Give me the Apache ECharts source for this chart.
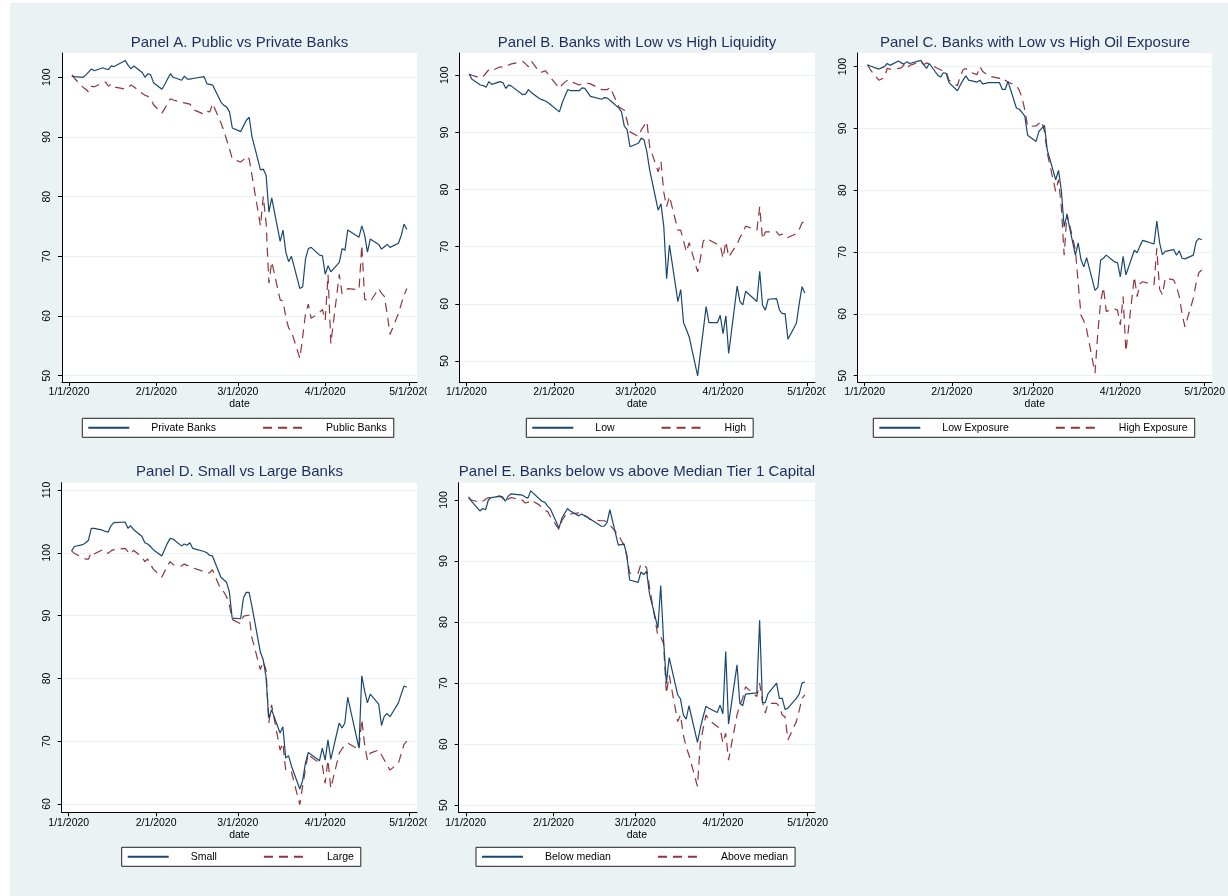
<!DOCTYPE html>
<html><head><meta charset="utf-8">
<script src="https://cdn.jsdelivr.net/npm/echarts@6/dist/echarts.min.js"></script>
<style>
html,body{margin:0;padding:0;background:#fff;}
#bg{position:absolute;left:10px;top:3px;width:1218px;height:893px;background:#EAF2F3;}
#chart{position:absolute;left:0;top:0;width:1228px;height:896px;}
</style></head><body><div id="bg"></div><div id="chart"></div>
<script>
const tradingDates = ['2020-01-02','2020-01-03','2020-01-06','2020-01-07','2020-01-08','2020-01-09','2020-01-10','2020-01-13','2020-01-14','2020-01-15','2020-01-16','2020-01-17','2020-01-21','2020-01-22','2020-01-23','2020-01-24','2020-01-27','2020-01-28','2020-01-29','2020-01-30','2020-01-31',
'2020-02-03','2020-02-04','2020-02-05','2020-02-06','2020-02-07','2020-02-10','2020-02-11','2020-02-12','2020-02-13','2020-02-14','2020-02-18','2020-02-19','2020-02-20','2020-02-21','2020-02-24','2020-02-25','2020-02-26','2020-02-27','2020-02-28',
'2020-03-02','2020-03-03','2020-03-04','2020-03-05','2020-03-06','2020-03-09','2020-03-10','2020-03-11','2020-03-12','2020-03-13','2020-03-16','2020-03-17','2020-03-18','2020-03-19','2020-03-20','2020-03-23','2020-03-24','2020-03-25','2020-03-26','2020-03-27','2020-03-30','2020-03-31',
'2020-04-01','2020-04-02','2020-04-03','2020-04-06','2020-04-07','2020-04-08','2020-04-09','2020-04-13','2020-04-14','2020-04-15','2020-04-16','2020-04-17','2020-04-20','2020-04-21','2020-04-22','2020-04-23','2020-04-24','2020-04-27','2020-04-28','2020-04-29','2020-04-30'];

const xTickLabels = ['1/1/2020','2/1/2020','3/1/2020','4/1/2020','5/1/2020'];
const yTicksAE = [50,60,70,80,90,100];
const yTicksD = [60,70,80,90,100,110];

const panelTitles = ['Panel A. Public vs Private Banks','Panel B. Banks with Low vs High Liquidity','Panel C. Banks with Low vs High Oil Exposure','Panel D. Small vs Large Banks','Panel E. Banks below vs above Median Tier 1 Capital'];
const seriesNames = [['Private Banks','Public Banks'],['Low','High'],['Low Exposure','High Exposure'],['Small','Large'],['Below median','Above median']];

const privateBanks = [100.2,100.1,100.0,100.4,100.9,101.4,101.1,101.6,101.4,101.3,101.9,101.8,102.8,102.0,101.4,101.9,100.8,100.0,100.6,100.4,99.1,
98.0,98.8,99.7,100.6,100.0,99.5,100.2,99.7,99.7,99.8,100.1,98.9,98.8,98.7,95.8,95.3,95.0,94.2,91.5,
90.9,91.9,92.8,93.3,90.0,84.5,84.6,83.6,77.4,79.8,72.5,74.4,70.7,69.1,70.0,64.6,64.9,69.6,71.3,71.5,70.2,70.1,
67.0,68.4,67.4,69.0,71.3,71.0,74.4,73.2,75.1,73.6,70.7,72.9,72.0,71.2,71.6,72.0,71.5,72.2,73.5,75.4,74.5];
const publicBanks = [100.4,99.8,98.3,98.0,97.5,98.5,98.4,99.1,99.2,98.5,98.9,98.4,98.0,98.3,98.7,98.4,97.3,97.0,96.8,96.5,95.4,
94.0,94.8,95.6,96.4,96.2,95.8,95.7,95.6,95.5,94.6,93.8,94.3,94.2,95.6,92.3,91.0,89.5,88.0,86.3,
85.8,86.2,86.8,86.3,83.5,75.1,80.0,75.6,65.5,69.1,62.7,62.5,59.8,58.0,57.4,52.9,56.5,60.4,62.0,59.6,60.6,61.1,
59.3,66.9,55.4,67.0,63.7,64.1,64.6,64.4,71.9,62.8,62.6,62.4,64.6,63.8,63.3,60.4,56.9,60.4,62.0,63.5,64.6];

const lowLiquidity = [100.2,99.3,98.3,98.2,97.9,98.9,98.4,98.9,98.7,97.7,98.3,98.1,96.6,96.7,97.5,97.0,95.9,95.7,95.5,95.2,94.8,
93.6,95.2,96.4,97.5,97.3,97.3,97.8,97.7,97.0,96.3,95.8,96.1,96.0,95.6,94.3,93.6,91.1,90.5,87.5,
88.1,89.0,88.7,86.6,83.4,76.4,77.5,73.5,64.4,70.3,60.4,62.5,56.7,55.5,54.2,47.4,51.5,55.4,59.5,56.7,56.7,58.0,
54.8,57.9,51.3,63.1,60.4,59.8,62.2,60.4,65.7,59.8,58.9,60.8,60.9,58.9,58.3,58.3,53.8,56.6,60.0,63.0,61.9];
const highLiquidity = [100.2,100.0,99.5,99.8,100.4,101.0,100.8,101.5,101.4,101.4,101.8,102.0,102.4,102.0,101.5,102.5,100.5,100.6,100.8,100.2,99.5,
97.7,98.4,98.8,99.2,98.9,98.3,98.5,98.6,98.6,98.5,97.5,97.5,97.5,97.9,94.5,94.2,93.9,92.0,90.1,
89.3,90.4,91.2,91.9,87.5,83.1,84.9,79.5,77.0,78.8,72.9,72.9,71.0,69.1,70.7,65.6,68.0,71.0,71.5,71.2,70.4,70.3,
68.0,70.9,68.2,70.5,71.6,72.5,73.6,72.9,77.0,71.3,72.6,72.6,72.6,72.0,72.2,71.6,71.6,72.3,73.0,74.2,74.4];

const lowOil = [100.3,100.1,99.6,99.8,100.0,100.5,100.2,100.9,100.6,100.4,100.8,100.5,101.0,100.3,99.7,100.5,98.6,98.3,99.0,98.9,97.4,
96.1,97.0,97.8,98.5,97.8,97.5,97.8,97.2,97.3,97.4,97.4,96.3,96.3,97.6,93.3,93.1,92.6,92.0,88.9,
87.9,89.5,90.0,90.5,86.5,81.7,83.2,80.0,74.1,76.0,69.5,71.5,68.8,67.6,69.1,63.8,64.3,68.7,69.0,69.5,68.4,68.3,
66.0,69.3,66.3,70.3,69.9,71.0,71.9,71.3,75.0,71.5,69.6,70.1,70.4,69.5,70.2,69.0,68.9,69.5,71.7,72.2,72.0];
const highOil = [100.3,99.5,97.8,98.0,98.2,99.7,99.6,99.7,99.8,100.3,99.7,100.2,100.8,100.3,100.6,100.4,99.7,99.5,99.3,99.2,97.8,
96.9,98.4,99.5,99.7,99.2,98.7,100.0,99.2,98.9,98.5,98.1,98.3,97.8,97.5,96.9,96.2,95.0,93.0,90.3,
90.4,90.8,91.2,89.5,86.0,79.8,81.7,77.3,69.5,76.2,70.4,65.0,59.8,58.9,57.5,50.4,57.0,62.0,64.3,60.4,60.8,60.6,
58.2,62.8,53.9,66.0,62.8,64.9,65.2,64.7,70.6,64.0,63.1,65.8,65.5,64.4,62.8,60.0,57.9,62.5,65.0,66.7,67.1];

const smallBanks = [100.3,101.0,101.3,101.6,102.0,103.9,103.9,103.6,103.4,103.3,104.3,104.8,104.9,103.9,104.3,103.7,102.6,101.6,101.4,101.0,100.5,
99.5,100.5,101.5,102.3,102.2,101.1,101.4,101.2,101.6,100.7,100.2,100.0,99.6,99.5,96.1,95.7,95.3,93.8,89.6,
89.5,92.8,93.7,93.7,91.5,84.2,83.0,80.3,73.7,75.0,71.3,72.3,67.3,67.7,66.1,62.4,63.7,66.5,68.2,67.9,66.9,68.9,
67.0,70.2,67.1,72.9,72.1,72.9,77.0,68.9,80.4,78.0,76.1,77.5,75.9,72.5,74.0,74.4,73.9,76.1,77.5,78.8,78.6];
const largeBanks = [100.3,99.9,99.2,99.0,99.0,100.1,99.8,100.5,100.2,99.9,100.3,100.5,100.7,100.2,99.8,100.4,99.3,98.6,99.0,98.2,97.4,
96.1,97.0,97.9,98.6,98.1,97.9,98.2,98.0,97.8,97.6,97.0,96.8,96.8,97.3,94.1,93.8,93.0,91.7,89.4,
88.7,89.9,90.0,90.1,86.5,81.4,82.7,81.4,72.9,75.8,68.6,69.7,65.4,65.3,65.2,59.9,62.8,65.5,68.1,67.5,66.5,66.2,
63.3,67.0,62.5,68.1,68.8,69.3,69.7,68.7,73.5,69.5,67.0,68.1,68.6,67.8,67.0,66.2,65.4,66.5,68.0,69.5,70.0];

const belowMedian = [100.5,99.8,98.2,98.6,98.4,100.0,100.4,100.6,100.5,99.8,100.6,101.0,100.8,100.5,100.3,101.5,100.2,99.8,99.6,99.0,98.5,
95.4,97.0,97.8,98.6,98.2,97.4,97.7,97.4,97.2,96.9,95.7,95.7,96.3,98.4,92.6,92.7,92.8,91.0,86.9,
86.5,88.2,87.8,88.3,84.7,79.0,86.0,77.1,70.0,74.2,68.1,67.4,64.8,64.1,66.3,60.3,62.6,64.5,66.2,65.9,65.2,66.4,
65.0,75.2,63.3,73.0,66.7,66.3,68.2,68.4,80.3,66.8,66.8,68.3,70.0,67.5,67.5,65.7,65.9,67.5,68.2,70.0,70.2];
const aboveMedian = [100.3,100.0,99.6,99.8,100.1,100.4,100.3,100.7,100.3,99.7,100.1,100.4,100.0,99.5,99.6,100.0,99.2,98.6,98.3,98.1,97.2,
95.2,96.6,97.3,97.9,97.7,97.9,97.9,97.5,97.2,96.8,96.6,96.6,96.4,95.9,94.3,93.4,92.6,90.8,88.0,
88.0,89.5,89.3,88.9,85.8,77.7,77.6,76.5,68.3,71.3,63.7,64.8,61.5,59.6,58.2,53.1,60.2,62.5,64.8,64.0,62.9,62.6,
60.2,61.8,57.4,64.8,66.4,67.5,69.4,67.8,70.0,67.0,65.1,66.7,66.7,66.2,64.8,64.5,60.7,63.7,65.5,67.5,68.1];

const panelSeries = [[privateBanks, publicBanks],[lowLiquidity, highLiquidity],[lowOil, highOil],[smallBanks, largeBanks],[belowMedian, aboveMedian]];

// ---- layout (pixels) ----
const layouts = [
  {left:62,    top:53,    width:355,   height:329,   ymin:48.94, ymax:104.07, ticks:yTicksAE, tx:239.5, ty:35,    lx:82.3,  ly:418.3},
  {left:459.3, top:53,    width:355.7, height:329,   ymin:46.32, ymax:103.9,  ticks:yTicksAE, tx:637,   ty:35,    lx:526.3, ly:418.3},
  {left:857.7, top:53,    width:355,   height:329,   ymin:48.98, ymax:102.2,  ticks:yTicksAE, tx:1035,  ty:35,    lx:873.3, ly:418.3},
  {left:61.7,  top:482.7, width:355.3, height:329.6, ymin:58.68, ymax:111.16, ticks:yTicksD,  tx:239.5, ty:464.7, lx:121.7, ly:847.3},
  {left:458.7, top:482.7, width:356.3, height:329.6, ymin:48.85, ymax:102.83, ticks:yTicksAE, tx:637,   ty:464.7, lx:476,   ly:847.3}
];
// regions where a neighbouring sub-graph clips overflowing tick labels
const clipRects = [
  {x:427, y:384, w:9, h:18}, {x:427, y:814, w:9, h:18}, {x:825.5, y:384, w:9, h:18}
];

const DAY = 86400000;
const base = Date.UTC(2020,0,1);
function isoDay(s){ const p=s.split('-').map(Number); return (Date.UTC(p[0],p[1]-1,p[2])-base)/DAY; }
function mdyDay(s){ const p=s.split('/').map(Number); return (Date.UTC(p[2],p[0]-1,p[1])-base)/DAY; }
const dayNums = tradingDates.map(isoDay);
const xTickDays = xTickLabels.map(mdyDay);
const labelByDay = {}; xTickDays.forEach((d,i)=>labelByDay[d]=xTickLabels[i]);

const FONT = 'Liberation Sans, Arial, sans-serif';
const NAVY = '#1A476F', MAROON = '#90353B', BG = '#EAF2F3';

const grid=[], xAxis=[], yAxis=[], series=[], title=[], legend=[];
layouts.forEach((L,i)=>{
  grid.push({left:L.left, top:L.top, width:L.width, height:L.height, show:true, backgroundColor:'#fff', borderWidth:0, containLabel:false});
  xAxis.push({gridIndex:i, type:'value', min:-2.5, max:123.6,
    name:'date', nameLocation:'middle', nameGap:16, nameTextStyle:{fontFamily:FONT,fontSize:10.5,color:'#000'},
    axisLine:{show:true,onZero:false,lineStyle:{color:'#000',width:1}},
    axisTick:{show:true,length:4,customValues:xTickDays,lineStyle:{color:'#000'}},
    axisLabel:{customValues:xTickDays,margin:5,fontFamily:FONT,fontSize:10.5,color:'#000',formatter:v=>labelByDay[v]||''},
    splitLine:{show:false}});
  yAxis.push({gridIndex:i, type:'value', min:L.ymin, max:L.ymax,
    axisLine:{show:true,onZero:false,lineStyle:{color:'#000',width:1}},
    axisTick:{show:true,length:4,customValues:L.ticks,lineStyle:{color:'#000'}},
    axisLabel:{customValues:L.ticks,rotate:90,margin:9,fontFamily:FONT,fontSize:10.5,color:'#000'},
    splitLine:{show:true,lineStyle:{color:BG,width:1}}});
  title.push({text:panelTitles[i], left:L.tx, top:L.ty, textAlign:'center', padding:0,
    textStyle:{fontFamily:FONT,fontSize:15,fontWeight:'normal',color:'#1E2D5E'}});
  const names = seriesNames[i];
  panelSeries[i].forEach((vals,k)=>{
    series.push({name:names[k], type:'line', xAxisIndex:i, yAxisIndex:i, symbol:'none', showSymbol:false, animation:false,
      z: k===0?3:2,
      lineStyle:{color:k===0?NAVY:MAROON, width:1.2, type:k===0?'solid':[9,6]},
      itemStyle:{color:k===0?NAVY:MAROON},
      data: dayNums.map((d,j)=>[d, vals[j]])});
  });
  legend.push({left:L.lx, top:L.ly, orient:'horizontal', data:names, selectedMode:false,
    itemWidth:41, itemHeight:10, itemGap:46, padding:[4,7,4,5],
    itemStyle:{opacity:0},
    backgroundColor:'#fff', borderColor:'#222', borderWidth:1, borderRadius:0,
    textStyle:{fontFamily:FONT,fontSize:10.5,color:'#000',padding:[0,0,0,17]}});
});

const graphic = clipRects.map(r=>({type:'rect', z:100, silent:true, shape:{x:r.x,y:r.y,width:r.w,height:r.h}, style:{fill:BG}}));

const chart = echarts.init(document.getElementById('chart'), null, {renderer:'canvas'});
chart.setOption({animation:false, backgroundColor:'transparent', grid, xAxis, yAxis, series, title, legend, graphic});
</script></body></html>
